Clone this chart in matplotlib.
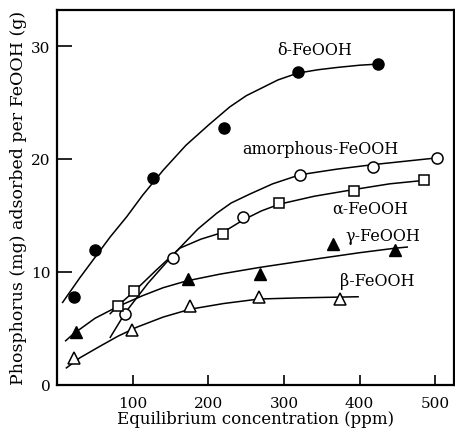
import matplotlib.pyplot as plt

# measured points (concentration ppm, phosphorus mg/g)
delta_x = [22, 50, 126, 221, 318, 424]
delta_y = [7.8, 11.9, 18.3, 22.7, 27.7, 28.4]
amor_x = [90, 153, 246, 321, 418, 503]
amor_y = [6.3, 11.2, 14.9, 18.6, 19.3, 20.1]
alpha_x = [80, 102, 219, 293, 393, 485]
alpha_y = [7.0, 8.3, 13.4, 16.1, 17.2, 18.1]
gamma_x = [25, 173, 268, 365, 447]
gamma_y = [4.7, 9.4, 9.8, 12.5, 11.9]
beta_x = [22, 99, 176, 267, 374]
beta_y = [2.4, 4.9, 7.0, 7.8, 7.6]

# hand drawn fit curves
delta_cx = [7, 30, 50, 70, 92, 113, 140, 170, 200, 228, 250, 268, 292, 318, 345, 370, 400, 424]
delta_cy = [7.3, 9.5, 11.3, 13.1, 14.9, 16.8, 19.0, 21.2, 23.0, 24.6, 25.6, 26.2, 27.0, 27.6, 27.9, 28.1, 28.3, 28.4]
amor_cx = [70, 90, 120, 153, 186, 211, 230, 255, 285, 321, 370, 418, 503]
amor_cy = [4.2, 6.4, 9.0, 11.5, 13.8, 15.2, 16.1, 16.9, 17.8, 18.6, 19.1, 19.5, 20.1]
alpha_cx = [70, 80, 102, 130, 162, 190, 219, 246, 270, 294, 340, 393, 440, 485]
alpha_cy = [6.3, 7.0, 8.3, 10.1, 12.1, 12.9, 13.5, 14.6, 15.4, 16.0, 16.7, 17.3, 17.8, 18.1]
gamma_cx = [11, 21, 50, 79, 113, 140, 171, 215, 268, 348, 400, 447, 463]
gamma_cy = [3.9, 4.5, 5.9, 6.9, 7.9, 8.6, 9.2, 9.8, 10.4, 11.2, 11.7, 12.1, 12.2]
beta_cx = [12, 30, 56, 80, 105, 140, 176, 220, 267, 320, 398]
beta_cy = [1.5, 2.4, 3.4, 4.3, 5.1, 6.0, 6.7, 7.2, 7.6, 7.7, 7.8]

x_ticks = [100, 200, 300, 400, 500]
y_ticks = [0, 10, 20, 30]

plt.rcParams['font.family'] = ['DejaVu Serif']

fig = plt.figure(figsize=(4.55, 4.35), dpi=100)
ax = fig.add_axes([0.126, 0.113, 0.872, 0.862])

lw = 1.1
for cx, cy in [(delta_cx, delta_cy), (amor_cx, amor_cy), (alpha_cx, alpha_cy),
               (gamma_cx, gamma_cy), (beta_cx, beta_cy)]:
    ax.plot(cx, cy, color='black', lw=lw, solid_joinstyle='round')

ax.plot(delta_x, delta_y, 'o', ms=8, color='black', zorder=3)
ax.plot(amor_x, amor_y, 'o', ms=8, mfc='white', mec='black', mew=1.1, zorder=3)
ax.plot(alpha_x, alpha_y, 's', ms=7.5, mfc='white', mec='black', mew=1.1, zorder=3)
ax.plot(gamma_x, gamma_y, '^', ms=8.5, color='black', zorder=3)
ax.plot(beta_x, beta_y, '^', ms=8.5, mfc='white', mec='black', mew=1.1, zorder=3)

fs = 11.5
ax.text(341, 29.7, 'δ-FeOOH', fontsize=fs, ha='center', va='center')
ax.text(348, 20.9, 'amorphous-FeOOH', fontsize=fs, ha='center', va='center')
ax.text(414, 15.6, 'α-FeOOH', fontsize=fs, ha='center', va='center')
ax.text(431, 13.2, 'γ-FeOOH', fontsize=fs, ha='center', va='center')
ax.text(423, 9.2, 'β-FeOOH', fontsize=fs, ha='center', va='center')

ax.set_xlim(0, 525)
ax.set_ylim(0, 33.2)
ax.set_xticks(x_ticks)
ax.set_yticks(y_ticks)
ax.tick_params(axis='x', direction='in', length=7, width=1.2, labelsize=11, pad=8)
ax.tick_params(axis='y', direction='in', length=11, width=1.2, labelsize=11, pad=5)
for side in ['left', 'right', 'top', 'bottom']:
    ax.spines[side].set_linewidth(1.6)

ax.set_xlabel('Equilibrium concentration (ppm)', fontsize=12, labelpad=0)
ax.set_ylabel('Phosphorus (mg) adsorbed per FeOOH (g)', fontsize=12.5, labelpad=3)

plt.savefig('out.png', dpi=100)
